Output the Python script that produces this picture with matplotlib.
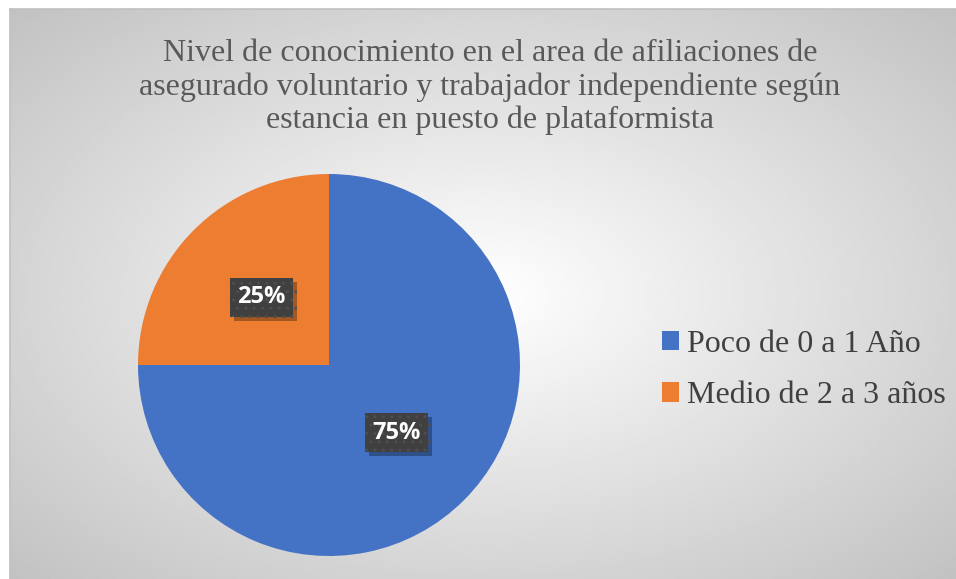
import numpy as np
import matplotlib.pyplot as plt
import matplotlib.patheffects as pe

labels = ["Poco de 0 a 1 Año", "Medio de 2 a 3 años"]
values = [75, 25]
colors = ["#4472C4", "#ED7D31"]
title = ("Nivel de conocimiento en el area de afiliaciones de\n"
         "asegurado voluntario y trabajador independiente según\n"
         "estancia en puesto de plataformista")

W, H = 956, 579
fig = plt.figure(figsize=(W / 100, H / 100), dpi=100)

# background with radial gradient
bg = fig.add_axes([10 / W, 0, (W - 10) / W, (H - 9) / H])
yy, xx = np.mgrid[-1:1:300j, -1:1:500j]
d = np.sqrt(xx ** 2 + yy ** 2) / np.sqrt(2)
shade = 1 - 0.24 * d
bg.imshow(shade, cmap="gray", vmin=0, vmax=1, aspect="auto",
          extent=[0, 1, 0, 1], interpolation="bilinear")
bg.set_xlim(0, 1)
bg.set_ylim(0, 1)
bg.set_xticks([])
bg.set_yticks([])
for k, s in bg.spines.items():
    s.set_color("#c0c0c0")
    s.set_linewidth(1.2)
    s.set_visible(k in ("left", "top"))

fig.text(490 / W, 1 - 87 / H, title, ha="center", va="center",
         fontsize=23, family="Liberation Serif", color="#595959",
         linespacing=1.17)

cx, cy, r = 329, 365, 191
ax = fig.add_axes([(cx - r) / W, (H - cy - r) / H, 2 * r / W, 2 * r / H])
wedges, _ = ax.pie(values, colors=colors, startangle=90, counterclock=False,
                   radius=1, wedgeprops=dict(linewidth=0))
ax.set_xlim(-1, 1)
ax.set_ylim(-1, 1)
ax.set_aspect("equal")

for w, v in zip(wedges, values):
    ang = np.deg2rad((w.theta1 + w.theta2) / 2)
    t = ax.text(0.5 * np.cos(ang), 0.5 * np.sin(ang), f"{v}%",
                ha="center", va="center", color="white", fontsize=17,
                fontweight="bold", family="Open Sans",
                bbox=dict(boxstyle="square,pad=0.32", fc="#404040",
                          ec="#4e4e4e", lw=0, hatch=".."))
    t.get_bbox_patch().set_path_effects(
        [pe.SimplePatchShadow(offset=(3, -3), shadow_rgbFace="black", alpha=0.3),
         pe.Normal()])

fig.legend(wedges, labels, loc="center left",
           bbox_to_anchor=(633 / W, 1 - 370 / H), frameon=False,
           prop=dict(family="Liberation Serif", size=23),
           labelcolor="#404040", handlelength=0.55, handleheight=0.55,
           handletextpad=0.25, labelspacing=0.7)

fig.savefig("out.png", dpi=100)
